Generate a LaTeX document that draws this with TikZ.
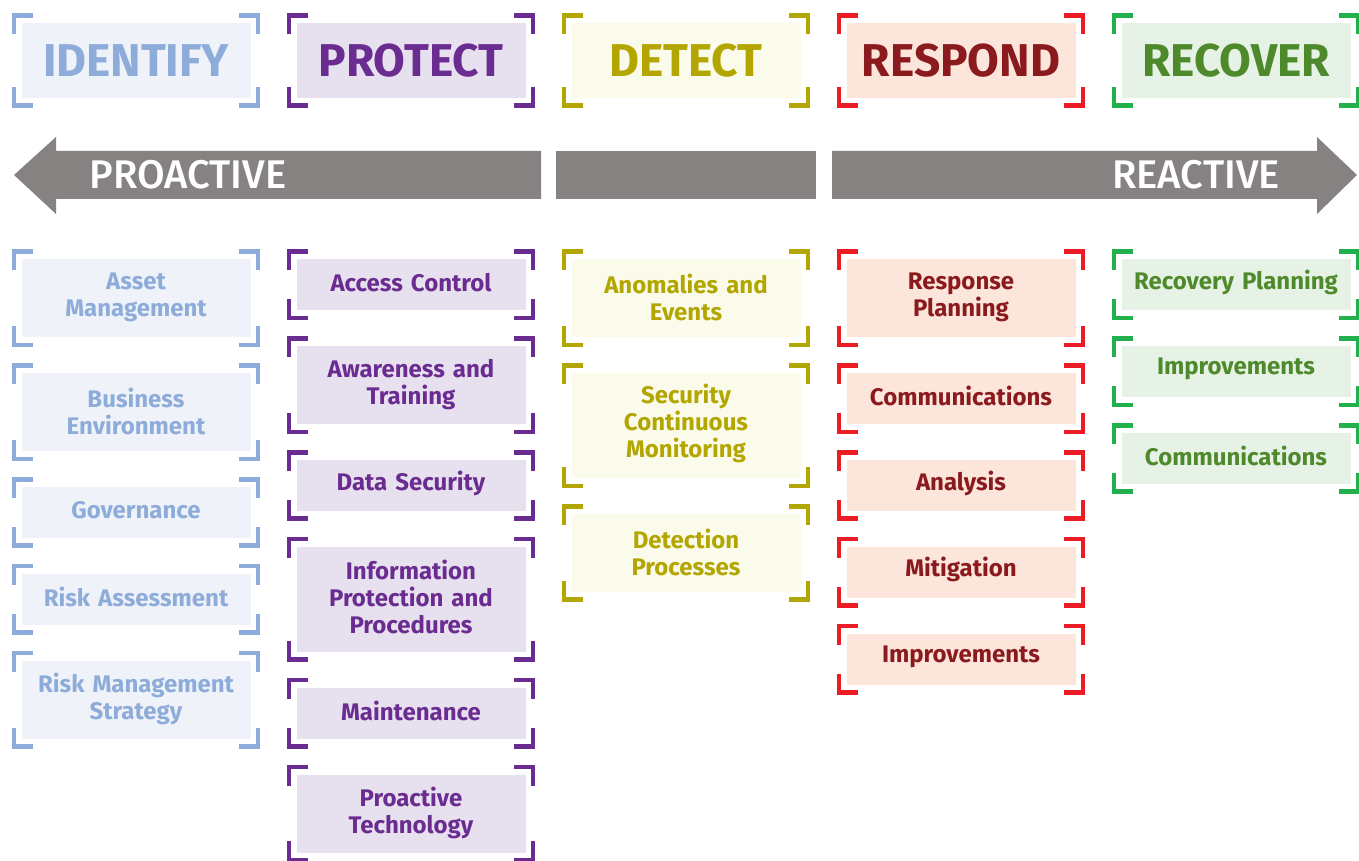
\documentclass[tikz,border=0pt]{standalone}
\usepackage{fontspec}
\setmainfont{Fira Sans}
\IfFontExistsTF{Fira Sans Medium}
  {\newfontfamily\barfont{Fira Sans Medium}}
  {\newfontfamily\barfont{Fira Sans}}
\usetikzlibrary{positioning}
\definecolor{idline}{HTML}{8EACDA}
\definecolor{idfill}{HTML}{EFF3F9}
\definecolor{prline}{HTML}{6B2C91}
\definecolor{prfill}{HTML}{E7E1EF}
\definecolor{deline}{HTML}{B3A600}
\definecolor{defill}{HTML}{FAFBEA}
\definecolor{reline}{HTML}{ED1C24}
\definecolor{refill}{HTML}{FCE5DB}
\definecolor{retext}{HTML}{8B1A1E}
\definecolor{rcline}{HTML}{21B04B}
\definecolor{rcfill}{HTML}{E6F2E5}
\definecolor{rctext}{HTML}{4E8A2C}
\definecolor{arrowgray}{HTML}{858281}
\tikzset{
  {box/.style}={rectangle, inner sep=2pt, minimum width=229pt, text width=225pt,
                align=center, font=\bfseries\fontsize{24}{27}\selectfont},
  {head/.style}={box, minimum height=75pt, anchor=center,
                 font=\bfseries\fontsize{46}{50}\selectfont},
  {one/.style}={box, minimum height=51pt, execute at end node={\par\vspace*{5pt}}},
  {two/.style}={box, minimum height=78pt, execute at end node={\par\vspace*{1pt}}},
  {three/.style}={box, minimum height=105pt, execute at end node={\par\vspace*{5pt}}},
  {identify/.style}={fill=idfill, text=idline},
  {protect/.style}={fill=prfill, text=prline},
  {detect/.style}={fill=defill, text=deline},
  {respond/.style}={fill=refill, text=retext},
  {recover/.style}={fill=rcfill, text=rctext},
  {bar/.style}={fill=arrowgray, draw=none},
  {bar text/.style}={text=white, font=\barfont\fontsize{40}{44}\selectfont},
  {corner/.style}={line width=4.5pt, line cap=butt, miter limit=10},
}
% four bracket corners round a node
\newcommand\corners[2]{%
  \draw[corner,#2] ([shift={(-7.5,-11.5)}]#1.north west) -- ++(0,19) -- ++(19,0);
  \draw[corner,#2] ([shift={(-11.5,7.5)}]#1.north east) -- ++(19,0) -- ++(0,-19);
  \draw[corner,#2] ([shift={(7.5,11.5)}]#1.south east) -- ++(0,-19) -- ++(-19,0);
  \draw[corner,#2] ([shift={(11.5,-7.5)}]#1.south west) -- ++(-19,0) -- ++(0,19);
}
\begin{document}
\begin{tikzpicture}[x=1pt,y=1pt,node distance=35.5pt]
    \useasboundingbox (0,0) rectangle (1359,860);
    % headers
    \node[head,identify] (identify) at (136,799.5) {IDENTIFY};
    \node[head,protect] (protect) at (411,799.5) {PROTECT};
    \node[head,detect] (detect) at (686,799.5) {DETECT};
    \node[head,respond] (respond) at (961,799.5) {RESPOND};
    \node[head,recover] (recover) at (1236,799.5) {RECOVER};
    % arrow band
    \fill[bar] (14,685) -- (56,723) -- (56,709) -- (541,709) -- (541,661)
      -- (56,661) -- (56,646) -- cycle;
    \fill[bar] (556,709) rectangle (816,661);
    \fill[bar] (832,709) -- (1317,709) -- (1317,723) -- (1357,685)
      -- (1317,646) -- (1317,661) -- (832,661) -- cycle;
    \node[bar text] (proactive) at (188,685) {PROACTIVE};
    \node[bar text] (reactive) at (1196,685) {REACTIVE};
    % identify
    \node[two,identify,anchor=north] (asset) at (136,601) {Asset\\Management};
    \node[two,identify,below=of asset] (business) {Business\\Environment};
    \node[one,identify,below=of business] (governance) {Governance};
    \node[one,identify,below=of governance] (risk) {Risk Assessment};
    \node[two,identify,below=of risk] (strategy) {Risk Management\\Strategy};
    % protect
    \node[one,protect,anchor=north] (access) at (411,601) {Access Control};
    \node[two,protect,below=of access] (awareness) {Awareness and\\Training};
    \node[one,protect,below=of awareness] (datasec) {Data Security};
    \node[three,protect,below=of datasec] (infoprot) {Information\\Protection and\\Procedures};
    \node[one,protect,below=of infoprot] (maintenance) {Maintenance};
    \node[two,protect,below=of maintenance] (proactech) {Proactive\\Technology};
    % detect
    \node[two,detect,anchor=north] (anomalies) at (686,601) {Anomalies and\\Events};
    \node[three,detect,below=of anomalies] (monitoring) {Security\\Continuous\\Monitoring};
    \node[two,detect,below=of monitoring] (processes) {Detection\\Processes};
    % respond
    \node[two,respond,anchor=north] (resplan) at (961,601) {Response\\Planning};
    \node[one,respond,below=of resplan] (rescomm) {Communications};
    \node[one,respond,below=of rescomm] (analysis) {Analysis};
    \node[one,respond,below=of analysis] (mitigation) {Mitigation};
    \node[one,respond,below=of mitigation] (resimpr) {Improvements};
    % recover
    \node[one,recover,anchor=north] (recplan) at (1236,601) {Recovery Planning};
    \node[one,recover,below=of recplan] (recimpr) {Improvements};
    \node[one,recover,below=of recimpr] (reccomm) {Communications};
    % brackets
    \foreach \n in {identify,asset,business,governance,risk,strategy}
      \corners{\n}{idline};
    \foreach \n in {protect,access,awareness,datasec,infoprot,maintenance,proactech}
      \corners{\n}{prline};
    \foreach \n in {detect,anomalies,monitoring,processes}
      \corners{\n}{deline};
    \foreach \n in {respond,resplan,rescomm,analysis,mitigation,resimpr}
      \corners{\n}{reline};
    \foreach \n in {recover,recplan,recimpr,reccomm}
      \corners{\n}{rcline};
\end{tikzpicture}
\end{document}
